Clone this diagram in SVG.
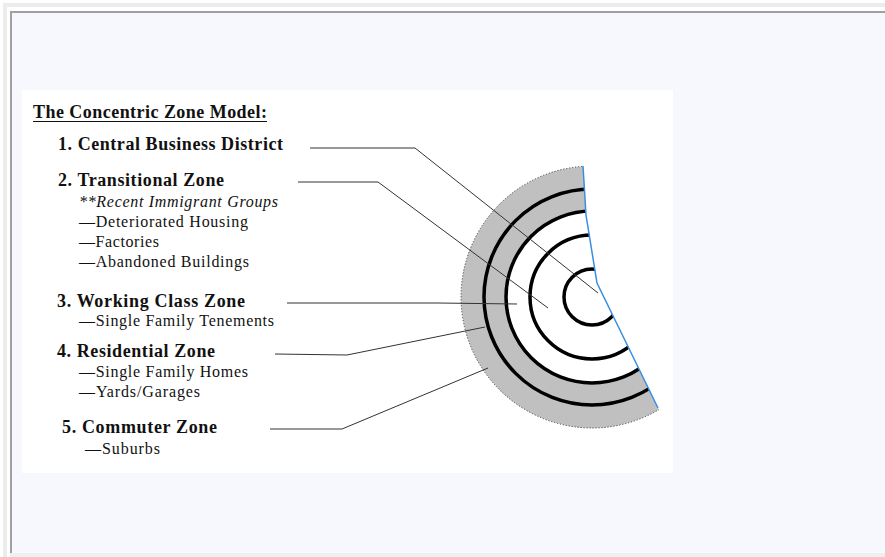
<svg xmlns="http://www.w3.org/2000/svg" width="885" height="557" viewBox="0 0 885 557">
<defs>
<style>
.b{font-family:"Liberation Serif","Times New Roman",serif;font-weight:bold;font-size:18px;fill:#111}
.r{font-family:"Liberation Serif","Times New Roman",serif;font-size:16px;fill:#111}
.i{font-style:italic}
.ring{fill:none;stroke:#000;stroke-width:3.5}
.lead{fill:none;stroke:#333;stroke-width:1}
</style>
<clipPath id="cut">
<polygon points="400,100 583,100 583,166 586,215 597,283 658,408 680,452 680,460 400,460"/>
</clipPath>
</defs>
<rect width="885" height="557" fill="#ffffff"/>
<rect x="3" y="3" width="882" height="4" fill="#ececec"/>
<rect x="3" y="3" width="4" height="554" fill="#ececec"/>
<rect x="10" y="11" width="875" height="2" fill="#a0a0a0"/>
<rect x="10" y="11" width="2" height="542" fill="#a0a0a0"/>
<rect x="12" y="13" width="873" height="540" fill="#f7f8fd"/>
<rect x="10" y="553" width="875" height="4" fill="#efefef"/>
<rect x="22" y="90" width="651" height="383" fill="#ffffff"/>

<g id="title">
<text class="b" x="33" y="118" textLength="234" lengthAdjust="spacing">The Concentric Zone Model:</text>
<line x1="33" y1="121.5" x2="267" y2="121.5" stroke="#111" stroke-width="1.2"/>
</g>

<g id="zone1">
<text class="b" x="58" y="150" textLength="225" lengthAdjust="spacing">1. Central Business District</text>
</g>
<g id="zone2">
<text class="b" x="58" y="186" textLength="166" lengthAdjust="spacing">2. Transitional Zone</text>
<text class="r i" x="79" y="207" textLength="199" lengthAdjust="spacing">**Recent Immigrant Groups</text>
<text class="r" x="79" y="227" textLength="169" lengthAdjust="spacing">—Deteriorated Housing</text>
<text class="r" x="79" y="247" textLength="80" lengthAdjust="spacing">—Factories</text>
<text class="r" x="79" y="267" textLength="170" lengthAdjust="spacing">—Abandoned Buildings</text>
</g>
<g id="zone3">
<text class="b" x="57" y="307" textLength="188" lengthAdjust="spacing">3. Working Class Zone</text>
<text class="r" x="79" y="326" textLength="195" lengthAdjust="spacing">—Single Family Tenements</text>
</g>
<g id="zone4">
<text class="b" x="57" y="357" textLength="158" lengthAdjust="spacing">4. Residential Zone</text>
<text class="r" x="79" y="377" textLength="169" lengthAdjust="spacing">—Single Family Homes</text>
<text class="r" x="79" y="397" textLength="121" lengthAdjust="spacing">—Yards/Garages</text>
</g>
<g id="zone5">
<text class="b" x="62" y="433" textLength="155" lengthAdjust="spacing">5. Commuter Zone</text>
<text class="r" x="85" y="454" textLength="75" lengthAdjust="spacing">—Suburbs</text>
</g>

<g id="rings" clip-path="url(#cut)">
<path d="M461,297 a131,131 0 1,0 262,0 a131,131 0 1,0 -262,0 Z M506,297 a86,86 0 1,0 172,0 a86,86 0 1,0 -172,0 Z" fill="#c0c0c0" fill-rule="evenodd"/>
<circle cx="592" cy="297" r="131" fill="none" stroke="#444" stroke-width="1" stroke-dasharray="1.2,1.8"/>
<circle class="ring" cx="592" cy="297" r="108"/>
<circle class="ring" cx="592" cy="297" r="86"/>
<circle class="ring" cx="592" cy="297" r="62"/>
<circle class="ring" cx="592" cy="297" r="28"/>
</g>
<polyline points="583,166 586,215 597,283 658,408" fill="none" stroke="#3a8ee0" stroke-width="1.5"/>

<g id="connectors">
<polyline class="lead" points="310,148 415,148 598,293"/>
<polyline class="lead" points="298,182 378,182 548,308"/>
<polyline class="lead" points="287,303 438,303 517,304"/>
<polyline class="lead" points="275,354 347,355 485,327"/>
<polyline class="lead" points="270,429 342,429 488,368"/>
</g>
</svg>
